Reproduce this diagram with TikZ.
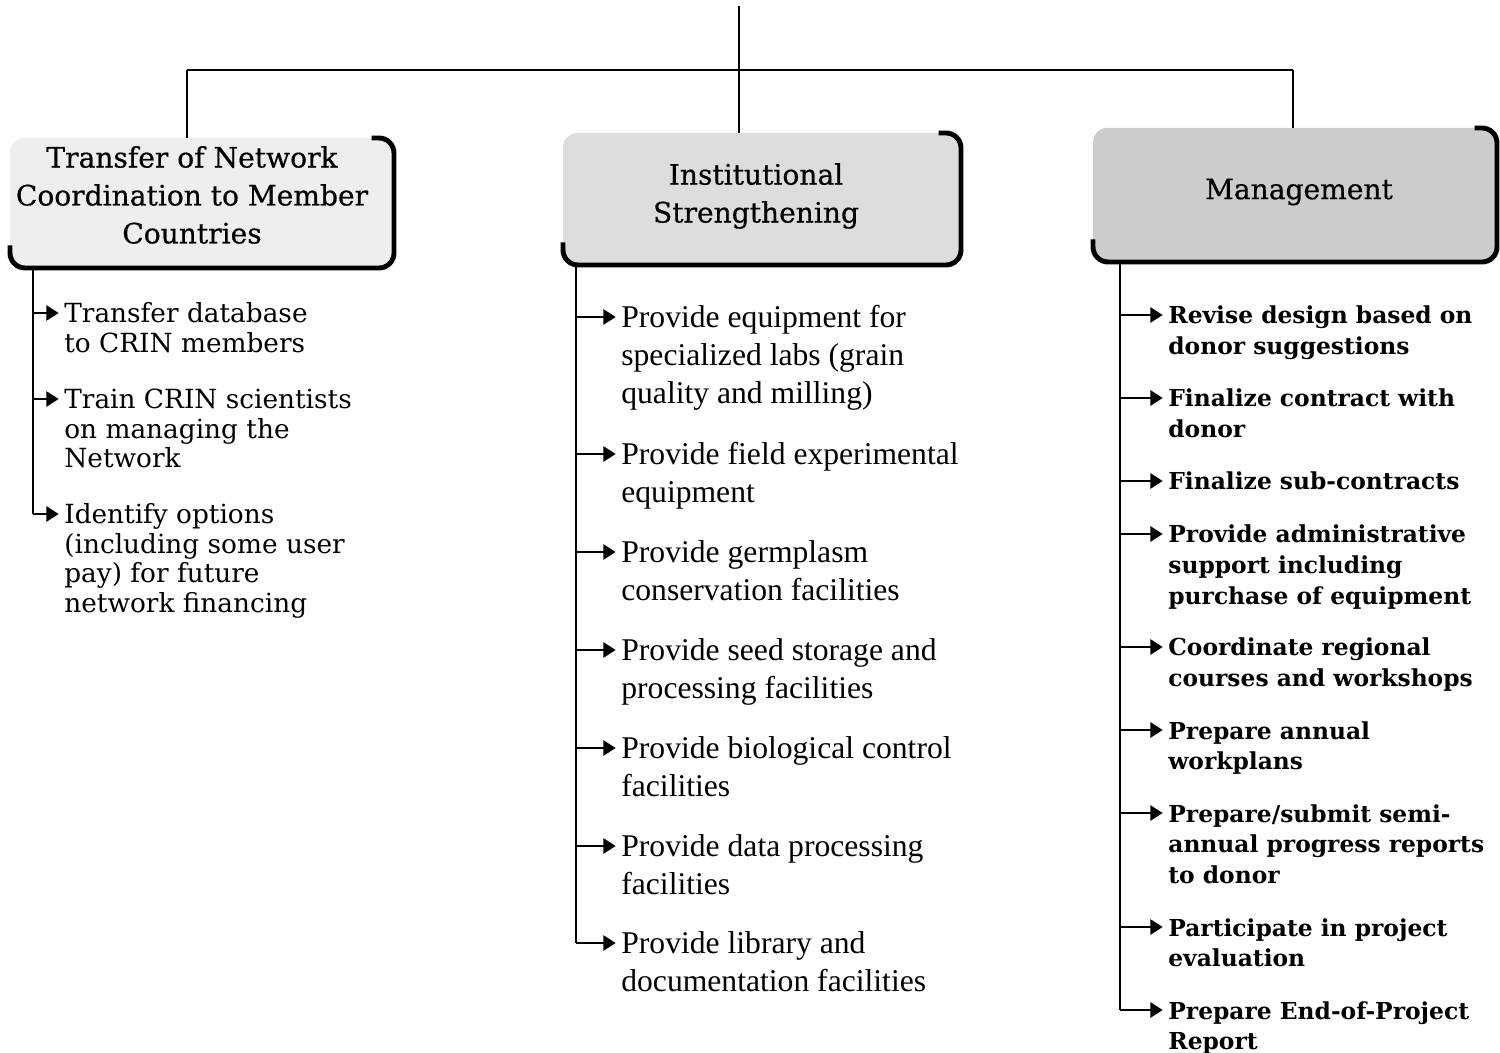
\documentclass[tikz,border=0pt]{standalone}
\usepackage{fontspec}
\setmainfont{DejaVu Serif}
\newfontfamily\timesfam{Liberation Serif}
\newfontfamily\hdrfam{DejaVu Serif}[FakeBold=0.6]
\usetikzlibrary{arrows.meta}

\begin{document}
\begin{tikzpicture}[x=0.02cm, y=-0.02cm,
  conn/.style={line width=1.5pt},
  arr/.style={conn, -{Triangle[length=7pt,width=8.5pt]}, shorten >=3pt},
  hdr/.style={inner sep=0pt, align=center,
    font=\hdrfam\fontsize{16}{21.6}\selectfont},
  hdrfill/.style={rounded corners=0.28cm},
  border/.style={line width=2.8pt, rounded corners=0.3cm},
  litem/.style={anchor=north west, inner sep=0pt, align=left,
    font=\fontsize{15}{17}\selectfont},
  mitem/.style={anchor=north west, inner sep=0pt, align=left,
    font=\timesfam\fontsize{18}{21.6}\selectfont},
  ritem/.style={anchor=north west, inner sep=0pt, align=left,
    font=\bfseries\fontsize{13.3}{17.6}\selectfont}]
\useasboundingbox (0,0) rectangle (1500,1053);

% header box corners
\coordinate (h1nw) at (10,138);   \coordinate (h1se) at (394,268);
\coordinate (h2nw) at (563,133);  \coordinate (h2se) at (961,265);
\coordinate (h3nw) at (1093,128); \coordinate (h3se) at (1497,262);

% header boxes: shaded body with a heavy right and bottom edge
\fill[hdrfill, gray!13] (h1nw) rectangle (h1se);
\fill[hdrfill, gray!27] (h2nw) rectangle (h2se);
\fill[hdrfill, gray!40] (h3nw) rectangle (h3se);
\foreach \h in {h1,h2,h3}{
  \draw[border] ([xshift=-0.45cm]\h nw -| \h se) -- (\h nw -| \h se) -- (\h se)
    -- (\h se -| \h nw) -- ([yshift=0.45cm]\h se -| \h nw);
}
\node[hdr] (h1) at (192,195) {Transfer of Network\\Coordination to Member\\Countries};
\node[hdr] (h2) at (756,196) {Institutional\\Strengthening};
\node[hdr] (h3) at (1299,192) {Management};

% tree above the headers
\coordinate (root) at (739,6);
\coordinate (b1) at (187,70);
\coordinate (b3) at (1293,70);
\draw[conn] (root) -- (root |- h2nw);
\draw[conn] (b1) -- (b3);
\draw[conn] (b1) -- (b1 |- h1nw);
\draw[conn] (b3) -- (b3 |- h3nw);

% left column
\foreach \n/\y/\t in {
  1/313/{Transfer database\\to CRIN members},
  2/399/{Train CRIN scientists\\on managing the\\Network},
  3/514/{Identify options\\(including some user\\pay) for future\\network financing}}{
  \coordinate (L\n) at (33,\y);
  \node[litem] (Lt\n) at (64,\y-12) {\strut\t};
  \draw[arr] (L\n) -- (L\n -| Lt\n.west);
}
\draw[conn] (h1se -| L1) -- (L3);

% middle column
\foreach \n/\y/\t in {
  1/317/{Provide equipment for\\specialized labs (grain\\quality and milling)},
  2/454/{Provide field experimental\\equipment},
  3/552/{Provide germplasm\\conservation facilities},
  4/650/{Provide seed storage and\\processing facilities},
  5/748/{Provide biological control\\facilities},
  6/846/{Provide data processing\\facilities},
  7/943/{Provide library and\\documentation facilities}}{
  \coordinate (M\n) at (576,\y);
  \node[mitem] (Mt\n) at (621,\y-16) {\strut\t};
  \draw[arr] (M\n) -- (M\n -| Mt\n.west);
}
\draw[conn] (h2se -| M1) -- (M7);

% right column
\foreach \n/\y/\t in {
  1/315/{Revise design based on\\donor suggestions},
  2/398/{Finalize contract with\\donor},
  3/481/{Finalize sub-contracts},
  4/534/{Provide administrative\\support including\\purchase of equipment},
  5/647/{Coordinate regional\\courses and workshops},
  6/730/{Prepare annual\\workplans},
  7/813/{Prepare/submit semi-\\annual progress reports\\to donor},
  8/927/{Participate in project\\evaluation},
  9/1010/{Prepare End-of-Project\\Report}}{
  \coordinate (R\n) at (1120,\y);
  \node[ritem] (Rt\n) at (1168,\y-13) {\strut\t};
  \draw[arr] (R\n) -- (R\n -| Rt\n.west);
}
\draw[conn] (h3se -| R1) -- (R9);
\end{tikzpicture}
\end{document}
